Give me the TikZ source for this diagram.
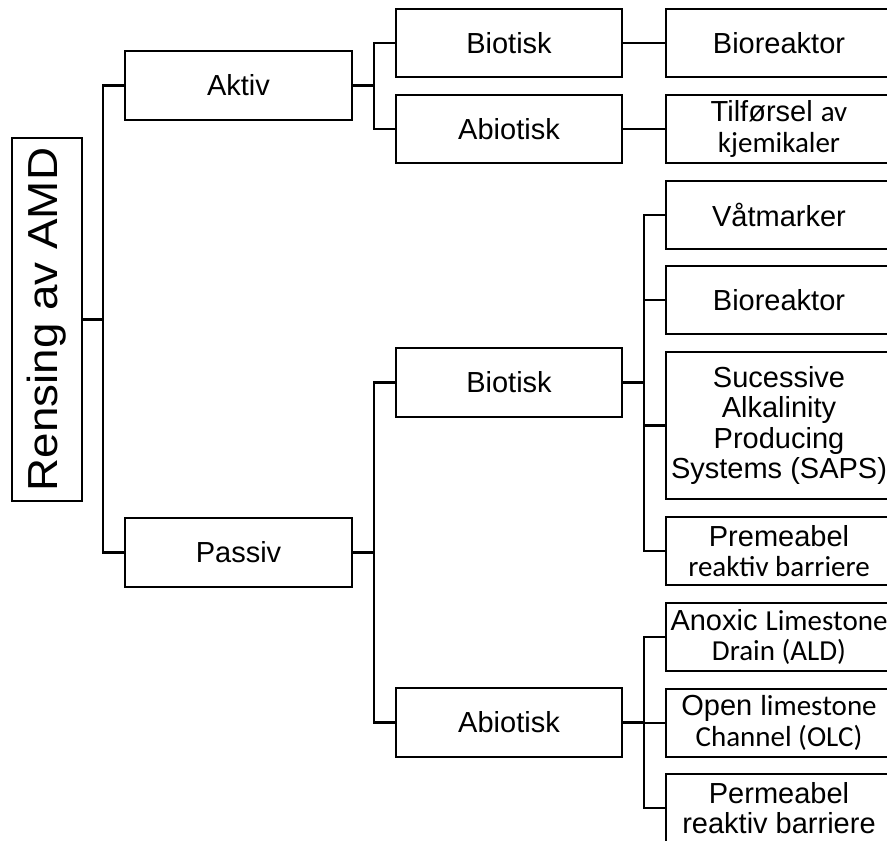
\documentclass[tikz,border=0pt]{standalone}
\usepackage{fontspec}
\setmainfont{Liberation Sans}
\newfontfamily\carlfam{Carlito}
\newcommand{\carl}{\carlfam\fontsize{29}{30}\selectfont}
\begin{document}
\begin{tikzpicture}[x=1pt,y=-1pt,
  box/.style={draw, line width=2.6pt, minimum width=226pt, minimum height=68pt, inner sep=0pt, align=center, font=\fontsize{29}{30.5}\selectfont},
  link/.style={line width=2.6pt}]
\useasboundingbox (0,0) rectangle (887,841);
\clip (0,0) rectangle (887,841);
% root
\node[draw, line width=2.6pt, minimum width=363pt, minimum height=70pt, inner sep=0pt, rotate=90, font=\fontsize{42}{44}\selectfont] (root) at (47,319.5) {\scalebox{1.09}[1]{Rensing av AMD}};
% level 1
\node[box, minimum width=227pt, minimum height=69pt] (aktiv) at (238.5,85.5) {Aktiv};
\node[box, minimum width=227pt, minimum height=69pt] (passiv) at (238.5,552.5) {Passiv};
% level 2
\node[box] (b1) at (509,43) {Biotisk};
\node[box] (a1) at (509,129) {Abiotisk};
\node[box, minimum height=69pt] (b2) at (509,382.5) {Biotisk};
\node[box, minimum height=69pt] (a2) at (509,722.5) {Abiotisk};
% level 3
\node[box] (r1) at (779,43) {Bioreaktor};
\node[box] (r2) at (779,129) {Tilførsel {\carl av}\\{\carl kjemikaler}};
\node[box] (r3) at (779,215) {Våtmarker};
\node[box] (r4) at (779,300) {Bioreaktor};
\node[box, minimum height=147pt] (r5) at (779,425.5) {Sucessive\\Alkalinity\\Producing\\Systems (SAPS)};
\node[box] (r6) at (779,551) {Premeabel\\{\carl reaktiv barriere}};
\node[box] (r7) at (779,637) {Anoxic {\carl Limestone}\\{\carl Drain (ALD)}};
\node[box] (r8) at (779,723) {Open {\carl limestone}\\{\carl Channel (OLC)}};
\node[box] (r9) at (779,808) {Permeabel\\reaktiv barriere};
% junctions
\coordinate (j0) at (103,319.5);
\coordinate (j1) at (374,85.5);
\coordinate (j2) at (374,552.5);
\coordinate (j3) at (644,382.5);
\coordinate (j4) at (644,722.5);
% connectors
\draw[link] (root.south) -- (j0);
\draw[link] (aktiv.west) -| (j0);
\draw[link] (passiv.west) -| (j0);
\draw[link] (aktiv.east) -- (j1);
\draw[link] (b1.west) -| (j1);
\draw[link] (a1.west) -| (j1);
\draw[link] (passiv.east) -- (j2);
\draw[link] (b2.west) -| (j2);
\draw[link] (a2.west) -| (j2);
\draw[link] (b1.east) -- (r1.west);
\draw[link] (a1.east) -- (r2.west);
\draw[link] (b2.east) -- (j3);
\draw[link] (r3.west) -| (j3);
\draw[link] (r4.west) -| (j3);
\draw[link] (r5.west) -| (j3);
\draw[link] (r6.west) -| (j3);
\draw[link] (a2.east) -- (j4);
\draw[link] (r7.west) -| (j4);
\draw[link] (r8.west) -| (j4);
\draw[link] (r9.west) -| (j4);
\end{tikzpicture}
\end{document}
